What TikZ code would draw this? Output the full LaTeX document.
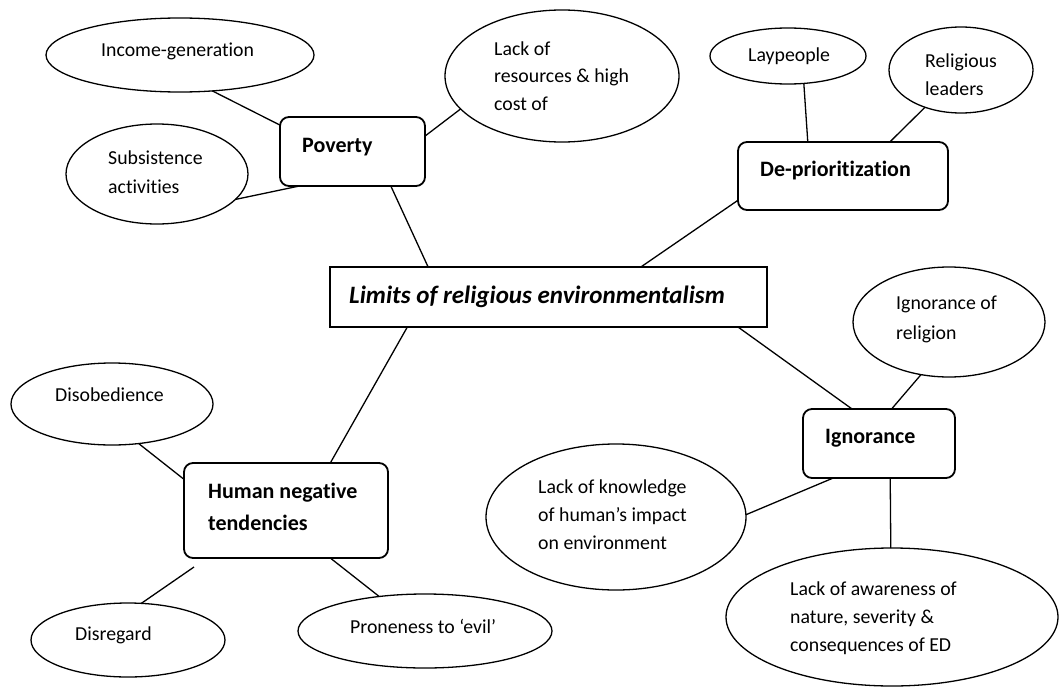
\documentclass[tikz,border=0pt]{standalone}
\usepackage{fontspec}
\setmainfont{Carlito}[Ligatures=NoCommon]
\usetikzlibrary{shapes.geometric}
\begin{document}
\begin{tikzpicture}[x=1pt,y=-1pt,
  ell/.style={draw, ellipse, line width=1.3pt, inner sep=0pt, outer sep=0pt},
  rbox/.style={draw, rounded corners=9pt, line width=1.8pt, inner sep=0pt, outer sep=0pt},
  sbox/.style={draw, line width=1.4pt, inner sep=0pt, outer sep=0pt},
  txt/.style={anchor=base west, align=left, inner sep=0pt, font=\fontsize{19.8}{28}\selectfont},
  head/.style={anchor=base west, align=left, inner sep=0pt, font=\fontsize{22}{32}\selectfont\bfseries},
  link/.style={line width=1.3pt}]
\useasboundingbox (0,0) rectangle (1060,688);

% ellipses
\node[ell, minimum width=268pt, minimum height=74pt] (inc) at (180,55) {};
\node[ell, minimum width=182pt, minimum height=100pt] (sub) at (157,174) {};
\node[ell, minimum width=234pt, minimum height=132pt] (lack) at (562,76) {};
\node[ell, minimum width=156pt, minimum height=56pt] (lay) at (788,56) {};
\node[ell, minimum width=144pt, minimum height=86pt] (rel) at (961,70) {};
\node[ell, minimum width=192pt, minimum height=110pt] (ignrel) at (949,322) {};
\node[ell, minimum width=260pt, minimum height=146pt] (know) at (616,517) {};
\node[ell, minimum width=332pt, minimum height=138pt] (aware) at (892,617) {};
\node[ell, minimum width=202pt, minimum height=82pt] (dis) at (112,404) {};
\node[ell, minimum width=194pt, minimum height=74pt] (disr) at (128,640) {};
\node[ell, minimum width=254pt, minimum height=74pt] (pron) at (425,631) {};

% boxes
\node[rbox, minimum width=145pt, minimum height=69pt] (pov) at (352.5,151.5) {};
\node[rbox, minimum width=210pt, minimum height=68pt] (dep) at (843,176) {};
\node[sbox, minimum width=437pt, minimum height=60pt] (ctr) at (548.5,297) {};
\node[rbox, minimum width=152pt, minimum height=69pt] (ign) at (879,443.5) {};
\node[rbox, minimum width=204pt, minimum height=95pt] (hum) at (286,510.5) {};

\coordinate (hd) at (194,567);

% texts (anchor = baseline of the last line)
\node[txt] (incT) at (101,56) {Income-generation};
\node[txt, font=\fontsize{19.8}{29}\selectfont] (subT) at (108,193) {Subsistence\\activities};
\node[head] (povT) at (302,152) {Poverty};
\node[txt, font=\fontsize{19.8}{27.5}\selectfont] (lackT) at (494,110) {Lack of\\resources \& high\\cost of};
\node[txt] (layT) at (748,61) {Laypeople};
\node[txt] (relT) at (925,95) {Religious\\leaders};
\node[head] (depT) at (760,176) {De-prioritization};
\node[head, font=\fontsize{25}{32}\selectfont\bfseries\itshape] (ctrT) at (349,303) {Limits of religious environmentalism};
\node[txt, font=\fontsize{19.8}{30}\selectfont] (ignrelT) at (896,339) {Ignorance of\\religion};
\node[head] (ignT) at (825,443) {Ignorance};
\node[txt] (knowT) at (538,549) {Lack of knowledge\\of human’s impact\\on environment};
\node[txt] (awareT) at (790,651) {Lack of awareness of\\nature, severity \&\\consequences of ED};
\node[txt] (disT) at (55,401) {Disobedience};
\node[head] (humT) at (208,530) {Human negative\\tendencies};
\node[txt] (disrT) at (75,640) {Disregard};
\node[txt] (pronT) at (350,633) {Proneness to ‘evil’};

% connectors
\draw[link] (inc.-48) -- (pov.160);
\draw[link] (sub.-18.6) -- (pov.-147);
\draw[link] (pov.12.5) -- (lack.198.4);
\draw[link] (pov.-42) -- (ctr.166.35);
\draw[link] (lay.-60) -- (dep.136.6);
\draw[link] (rel.-134.3) -- (dep.36.5);
\draw[link] (dep.193.3) -- (ctr.18);
\draw[link] (ctr.-9.5) -- (ign.128);
\draw[link] (ignrel.-118.2) -- (ign.70.8);
\draw[link] (ign.-143.5) -- (know.1);
\draw[link] (ign.-72.3) -- (aware.91.7);
\draw[link] (ctr.192) -- (hum.47.2);
\draw[link] (dis.-56) -- (hum.163.7);
\draw[link] (hd) -- (disr.70.1);
\draw[link] (hum.-47.8) -- (pron.143.9);
\end{tikzpicture}
\end{document}
